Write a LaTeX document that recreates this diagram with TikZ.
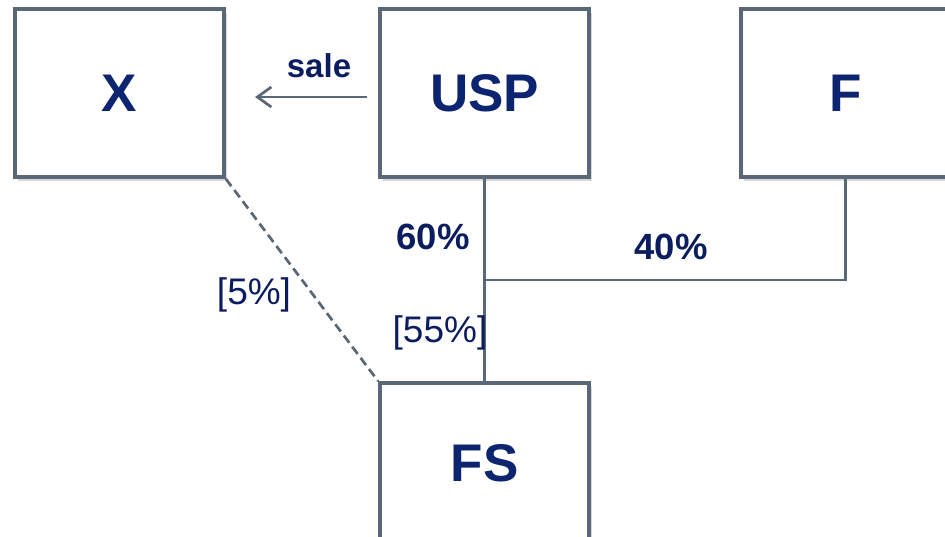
\documentclass[tikz,border=0pt]{standalone}
\usepackage{fontspec}
\setmainfont{Liberation Sans}
\usetikzlibrary{shadows,arrows.meta}
\definecolor{linegray}{HTML}{5A6776}
\definecolor{navy}{HTML}{0D2570}
\definecolor{lblnavy}{HTML}{0B1D5E}
\tikzset{
  box/.style={draw=linegray, line width=3.8pt, fill=white, minimum width=209pt, minimum height=168pt,
    inner sep=0pt, font=\fontsize{53}{60}\selectfont\bfseries, text=navy,
    drop shadow={shadow xshift=3pt, shadow yshift=-4pt, opacity=0.3, fill=gray}},
  conn/.style={draw=linegray, line width=2.7pt},
  lbl/.style={font=\fontsize{36.5}{40}\selectfont\bfseries, text=lblnavy, inner sep=0pt},
  lblr/.style={font=\fontsize{37}{40}\selectfont, text=lblnavy, inner sep=0pt}
}
\begin{document}
\begin{tikzpicture}[x=1pt,y=-1pt]
\useasboundingbox (0,0) rectangle (945,536);
\clip (0,0) rectangle (945,536);
\node[box] (X) at (119.5,93) {X};
\node[box] (USP) at (484.5,93) {USP};
\node[box] (F) at (845.5,93) {F};
\node[box, minimum height=160pt] (FS) at (484.5,463) {FS};
\coordinate (J) at (USP.south |- 0,280);
\coordinate (sa) at (367,97);
\coordinate (sb) at (255,97);
\draw[conn] (USP.south) -- (FS.north);
\draw[conn] (F.south) |- (J);
\draw[conn, dashed, dash pattern=on 9pt off 5pt] (X.south east) -- (FS.north west);
\draw[conn, -{Straight Barb[length=14pt,width=20pt]}] (sa) -- (sb);
\node[lbl, font=\fontsize{33}{40}\selectfont\bfseries] (sale) at (319,66) {sale};
\node[lbl] (p60) at (433,237) {60\%};
\node[lbl] (p40) at (671,247) {40\%};
\node[lblr] (p5) at (254,295) {[5\%]};
\node[lblr] (p55) at (440,333) {[55\%]};
\end{tikzpicture}
\end{document}
